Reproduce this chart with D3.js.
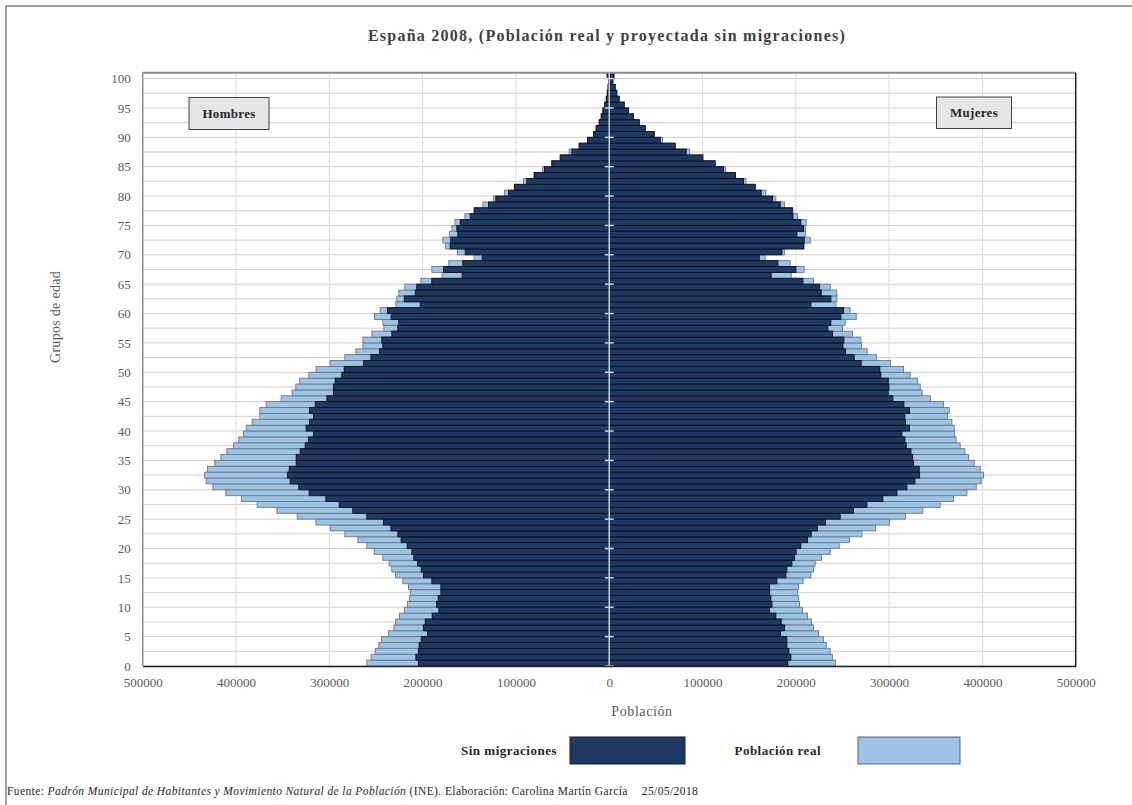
<!DOCTYPE html>
<html>
<head>
<meta charset="utf-8">
<script src="https://cdn.jsdelivr.net/npm/d3@7/dist/d3.min.js"></script>
<style>
  html, body { margin: 0; padding: 0; background: #fff; }
  svg { display: block; font-family: "Liberation Serif", "Times New Roman", serif; }
</style>
</head>
<body>
<svg id="chart" width="1132" height="805"></svg>
<script>
// ---------------- DATA ----------------
const ages = d3.range(0, 101);
const ageTicks = [0,5,10,15,20,25,30,35,40,45,50,55,60,65,70,75,80,85,90,95,100];
const popTicks = [-500000,-400000,-300000,-200000,-100000,0,100000,200000,300000,400000,500000];

// Hombres – Población real (age 0..100)
const menReal = [259800,255100,250800,246900,244000,236500,230800,229000,224700,219400,
  216200,214000,213000,215100,221200,229000,233000,235800,242600,251900,
  259800,269400,283300,298700,314400,334400,356200,377300,394100,410900,
  424800,432000,433800,430600,422700,416200,409800,402700,397000,392000,
  389100,382700,374500,374500,367700,351600,339800,335900,331900,321900,
  314100,299100,283300,271500,264000,264000,254400,241500,242600,251500,
  245500,228700,227600,225500,219000,201900,179000,190100,171900,144700,
  162600,175400,178300,171100,168600,165400,154700,144700,135400,124000,
  112200,101500,91800,80400,71500,61500,52500,42900,32200,23200,
  16800,14000,10700,8600,6800,5000,3300,2200,1400,900,
  2500];
// Hombres – Sin migraciones
const menSinMig = [204400,207200,204400,203700,201500,194700,199000,197200,189700,182600,
  185100,183300,180400,180400,190100,199000,201500,205400,209400,211500,
  216500,223000,226500,234000,241900,259800,274800,289400,303700,321600,
  332700,341900,344800,343000,335500,335500,331200,325900,322300,316900,
  324800,321200,316900,321200,315100,302600,295500,295500,293700,286600,
  284000,263300,255400,246200,242600,243700,233000,226500,225500,233700,
  237600,202600,219700,207900,206200,190100,157600,177600,156900,136100,
  154300,170400,169700,162200,163300,159700,149000,144700,129300,121500,
  107900,101500,88300,80400,69300,61500,52500,40000,32200,23200,
  16800,14000,10700,8600,6800,4800,3000,2000,1200,700,
  2000];
// Mujeres – Población real
const womenReal = [242600,239400,236900,232600,229700,224400,219000,216900,212600,207200,
  204000,202900,201900,202900,207900,216200,219000,220800,227600,236900,
  246500,257600,270800,285500,300500,317600,336200,354800,369100,383400,
  393400,398700,401200,397700,391200,385200,381200,376200,371900,370200,
  369800,367300,362700,364400,358400,344400,335500,333400,330500,322600,
  315500,301600,286600,276500,270500,269800,260800,250100,253000,264800,
  258300,243000,244000,244000,236900,219000,195100,209000,194000,167200,
  187900,209000,215500,210100,210500,211200,201900,196900,187900,178600,
  167900,156500,146500,135400,124700,113600,100400,86100,70700,57200,
  48200,38600,32200,26100,20700,16100,10700,8200,6400,3900,
  5400];
// Mujeres – Sin migraciones
const womenSinMig = [191500,194700,192600,190400,190400,183700,187900,184400,178600,171900,
  174400,173300,171900,171900,179700,189400,190400,195800,198700,200400,
  205400,212600,216500,223300,231900,247600,261900,276200,293300,308400,
  319000,327700,332700,332300,326200,325200,323400,318300,316900,313700,
  321900,317600,316900,321900,315900,304100,299100,299800,299100,291200,
  290100,270100,262600,253300,250500,251500,239400,234400,237600,248300,
  251200,216200,237600,227200,225500,207600,173600,200100,180800,160800,
  185100,208300,209000,201200,208300,205400,196900,196200,183300,175100,
  162900,156500,144000,135400,122600,113600,100400,82500,70700,54700,
  48200,38600,32200,26100,20700,16100,10700,8200,6400,3900,
  4900];

const titleText = "España 2008, (Población real y proyectada sin migraciones)";
const seriesNames = ["Sin migraciones", "Población real"];

// ---------------- DRAW ----------------
const svg = d3.select("#chart");
const W = 1132, H = 805;
const plot = { left: 142.7, right: 1075.7, top: 72.7, bottom: 666 };
const cDark = "#1f3864", cLight = "#9dc3e6";
const cText = "#595959";

// outer frame
svg.append("rect").attr("x", 6).attr("y", 6).attr("width", W + 10).attr("height", H + 10)
  .attr("fill", "#fff").attr("stroke", "#404040").attr("stroke-width", 1);

const x = d3.scaleLinear().domain([-500000, 500000]).range([plot.left, plot.right]);
const y = d3.scaleLinear().domain([0, 101]).range([plot.bottom, plot.top]);

// gridlines
const g = svg.append("g");
g.selectAll("line.hg").data(d3.range(0, 101, 2.5)).join("line")
  .attr("x1", plot.left).attr("x2", plot.right)
  .attr("y1", d => y(d)).attr("y2", d => y(d))
  .attr("stroke", "#cfcfcf").attr("stroke-width", 1);
g.selectAll("line.vg").data(popTicks.filter(d => d !== 0 && Math.abs(d) !== 500000)).join("line")
  .attr("x1", d => x(d)).attr("x2", d => x(d))
  .attr("y1", plot.top).attr("y2", plot.bottom)
  .attr("stroke", "#d9d9d9").attr("stroke-width", 1);

// bars
function bars(values, sign, fill, stroke) {
  svg.append("g").selectAll("rect").data(ages).join("rect")
    .attr("x", a => sign < 0 ? x(-values[a]) : x(0))
    .attr("width", a => Math.abs(x(values[a]) - x(0)))
    .attr("y", a => y(a + 1))
    .attr("height", a => y(a) - y(a + 1))
    .attr("fill", fill).attr("stroke", stroke).attr("stroke-width", 0.9);
}
bars(menReal, -1, cLight, "#6b7785");
bars(womenReal, 1, cLight, "#6b7785");
bars(menSinMig, -1, cDark, "#0a0f1a");
bars(womenSinMig, 1, cDark, "#0a0f1a");

// plot borders
svg.append("line").attr("x1", plot.left).attr("x2", plot.right).attr("y1", plot.top).attr("y2", plot.top)
  .attr("stroke", "#8c8c8c").attr("stroke-width", 2);
svg.append("line").attr("x1", plot.left).attr("x2", plot.left).attr("y1", plot.top).attr("y2", plot.bottom)
  .attr("stroke", "#8c8c8c").attr("stroke-width", 1.5);
svg.append("line").attr("x1", plot.right).attr("x2", plot.right).attr("y1", plot.top).attr("y2", plot.bottom)
  .attr("stroke", "#222").attr("stroke-width", 1.5);

// central vertical axis with ticks
svg.append("line").attr("x1", x(0)).attr("x2", x(0)).attr("y1", plot.top).attr("y2", plot.bottom)
  .attr("stroke", "#c9d6e6").attr("stroke-width", 1.5);
svg.append("g").selectAll("line").data(ageTicks).join("line")
  .attr("x1", x(0) - 4.5).attr("x2", x(0) + 4.5)
  .attr("y1", d => y(d)).attr("y2", d => y(d))
  .attr("stroke", "#c9d6e6").attr("stroke-width", 1.5);

// bottom axis
const xAxis = d3.axisBottom(x).tickValues(popTicks).tickSize(0).tickPadding(12)
  .tickFormat(d => String(Math.abs(d)));
const xg = svg.append("g").attr("transform", `translate(0,${plot.bottom})`).call(xAxis);
xg.select(".domain").attr("stroke", "#222").attr("stroke-width", 1.5);
xg.selectAll("text").attr("fill", cText).attr("font-size", 13)
  .attr("font-family", "Liberation Serif");

// left age labels
const ylab = d3.axisLeft(y).tickValues(ageTicks).tickSize(0).tickPadding(12);
const yl = svg.append("g").attr("transform", `translate(${plot.left},0)`).call(ylab);
yl.select(".domain").remove();
yl.selectAll("text").attr("fill", cText).attr("font-size", 13)
  .attr("font-family", "Liberation Serif");

// Title
svg.append("text").attr("x", 607).attr("y", 41).attr("text-anchor", "middle")
  .attr("font-size", 16).attr("font-weight", "bold").attr("fill", "#404040")
  .attr("letter-spacing", 1.25).text(titleText);

// axis titles
svg.append("text").attr("transform", "translate(60,317) rotate(-90)")
  .attr("text-anchor", "middle").attr("font-size", 14).attr("fill", cText)
  .attr("letter-spacing", 0.3).text("Grupos de edad");
svg.append("text").attr("x", 642).attr("y", 716).attr("text-anchor", "middle")
  .attr("font-size", 14).attr("fill", cText).attr("letter-spacing", 0.6).text("Población");

// sex boxes
function sexBox(x0, y0, w, h, label) {
  svg.append("rect").attr("x", x0).attr("y", y0).attr("width", w).attr("height", h)
    .attr("fill", "#e6e6e6").attr("stroke", "#404040").attr("stroke-width", 1);
  svg.append("text").attr("x", x0 + w / 2).attr("y", y0 + h / 2 + 4.5)
    .attr("text-anchor", "middle").attr("font-size", 13).attr("font-weight", "bold")
    .attr("fill", "#262626").attr("letter-spacing", 0.3).text(label);
}
sexBox(189, 97.5, 80, 32, "Hombres");
sexBox(936.5, 97, 75, 31.5, "Mujeres");

// legend
const legend = [
  { name: seriesNames[0], fill: cDark, stroke: "#1a1a1a", tx: 557, bx: 570, bw: 115 },
  { name: seriesNames[1], fill: cLight, stroke: "#5a6470", tx: 821, bx: 858, bw: 102 }
];
legend.forEach(l => {
  svg.append("text").attr("x", l.tx).attr("y", 755).attr("text-anchor", "end")
    .attr("font-size", 13).attr("font-weight", "bold").attr("fill", "#262626")
    .attr("letter-spacing", 0.5).text(l.name);
  svg.append("rect").attr("x", l.bx).attr("y", 737).attr("width", l.bw).attr("height", 27)
    .attr("fill", l.fill).attr("stroke", l.stroke).attr("stroke-width", 1);
});

// footer
const ft = svg.append("text").attr("x", 7).attr("y", 795).attr("font-size", 11.5)
  .attr("fill", "#262626").attr("letter-spacing", 0.4);
ft.append("tspan").text("Fuente: ");
ft.append("tspan").attr("font-style", "italic").text("Padrón Municipal de Habitantes y Movimiento Natural de la Población");
ft.append("tspan").text(" (INE). Elaboración: Carolina Martín García");
ft.append("tspan").attr("dx", 14).text("25/05/2018");
</script>
</body>
</html>
